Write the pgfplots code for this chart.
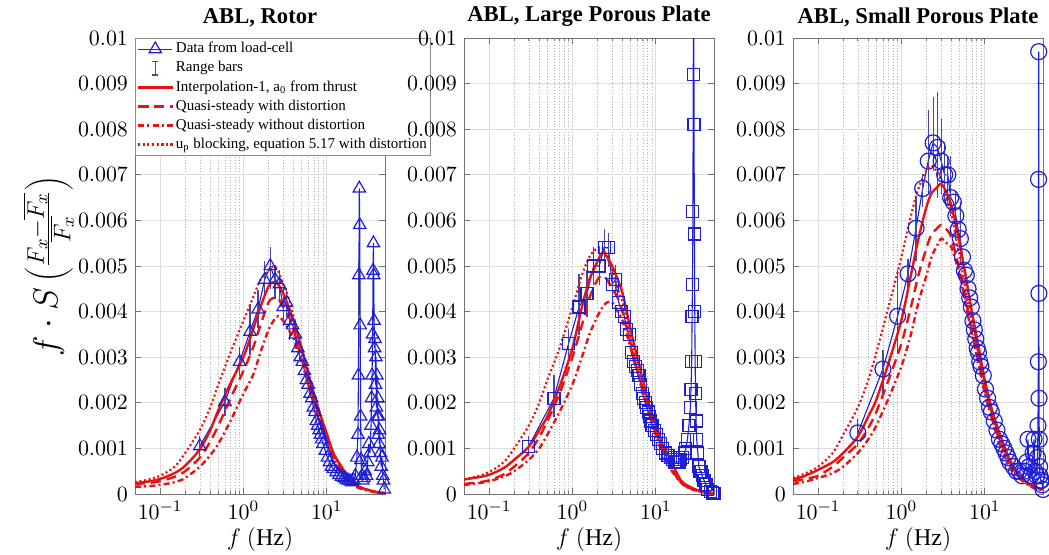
\documentclass[border=0pt]{standalone}
\usepackage{fontspec}
\setmainfont{Liberation Serif}
\usepackage{pgfplots}
\pgfplotsset{compat=1.18}
\usepackage{pgfplotstable}

\definecolor{mblue}{RGB}{30,30,215}
\definecolor{mred}{RGB}{232,18,18}
\definecolor{barcol}{RGB}{70,70,165}

% ---------- rotor ----------
\pgfplotstableread{
f y
0.3 0.00105
0.6 0.00202
0.9 0.0029
1.2 0.00356
1.5 0.00405
1.8 0.0047
2.1 0.0050
2.4 0.0047
2.7 0.0046
3.0 0.0041
3.3 0.0042
3.6 0.0038
3.9 0.0037
4.2 0.0035
4.5 0.0032
4.8 0.0030
5.1 0.0029
5.4 0.0027
5.7 0.0025
6.0 0.0024
6.3 0.0022
6.6 0.0021
6.9 0.0019
7.2 0.0018
7.5 0.0016
7.8 0.0015
8.1 0.0014
8.4 0.0013
8.7 0.0012
9.0 0.0011
9.6 0.00095
10.2 0.0008
10.8 0.0007
11.4 0.0006
12 0.00055
13 0.00048
14 0.00042
15 0.00038
16 0.00035
17 0.00032
18 0.0003
19 0.00028
20 0.00026
21 0.0003
22 0.0004
23 0.0008
23.7 0.0013
24.0 0.0026
24.3 0.0048
24.6 0.0067
24.9 0.0059
25.2 0.0037
25.5 0.0017
25.8 0.00075
26.4 0.0004
27 0.0003
28 0.00035
29 0.0005
30 0.0004
31 0.0007
32 0.0011
33 0.0009
34 0.0015
34.5 0.0021
35 0.0026
35.5 0.0035
36 0.0049
36.3 0.0055
36.6 0.0048
37 0.0038
37.5 0.0032
38 0.0034
38.5 0.0024
39 0.0030
39.5 0.0019
40 0.0026
40.5 0.0017
41 0.0021
41.5 0.0013
42 0.0017
42.5 0.0011
43 0.0014
44 0.0009
45 0.0006
46 0.0008
47 0.0004
48 0.0003
49 0.0001
}\rotordata

\pgfplotstableread{
f y p m
0.3 0.00105 0.0001 0.0001
0.6 0.00202 0.0002 0.0002
0.9 0.0029 0.0002 0.0002
1.2 0.00356 0.0005 0.0004
1.5 0.00405 0.0003 0.0003
1.8 0.0047 0.0003 0.0003
2.1 0.0050 0.0003 0.0004
2.4 0.0047 0.0002 0.0003
2.7 0.0046 0.0002 0.0003
3.0 0.0041 0.0003 0.0003
3.3 0.0042 0.0002 0.0002
3.6 0.0038 0.0002 0.0003
4.2 0.0035 0.0002 0.0002
24.3 0.0048 0.0002 0.0011
}\rotorbars

% f, interpolation-1, qs with distortion, qs without distortion, up blocking
\pgfplotstableread{
f a b c d
0.05 0.00024 0.00022 0.00016 0.00026
0.07 0.00027 0.00024 0.00017 0.00031
0.1 0.00033 0.00028 0.0002 0.0004
0.15 0.00046 0.00038 0.00026 0.0006
0.2 0.00062 0.0005 0.00035 0.0009
0.3 0.00098 0.0008 0.0006 0.0014
0.4 0.0014 0.00115 0.00085 0.0019
0.5 0.00184 0.0015 0.0011 0.0024
0.7 0.00243 0.0021 0.0016 0.0031
1 0.0030 0.0027 0.0022 0.0038
1.3 0.0036 0.0032 0.0026 0.0043
1.6 0.0041 0.0037 0.0031 0.0047
2 0.00455 0.0042 0.0036 0.0049
2.3 0.00465 0.0043 0.0038 0.0050
2.6 0.0046 0.0043 0.0039 0.0049
3 0.0044 0.0041 0.0038 0.0046
3.5 0.0041 0.0039 0.0036 0.0043
4 0.0038 0.0036 0.0034 0.0039
5 0.0032 0.0030 0.0029 0.0032
6 0.0026 0.0025 0.0024 0.0027
7 0.0022 0.0021 0.0020 0.0022
8.5 0.0017 0.0016 0.0015 0.0017
10 0.00133 0.0012 0.0012 0.0013
12 0.0009 0.00085 0.0008 0.0009
15 0.0006 0.0005 0.0005 0.0006
20 0.00027 0.00025 0.00022 0.0003
25 0.00015 0.00014 0.00012 0.00016
30 0.0001 0.0001 0.00008 0.0001
40 0.00004 0.00004 0.00003 0.00004
50 0.00002 0.00002 0.00001 0.00002
}\rotormodel

% ---------- large porous plate ----------
\pgfplotstableread{
f y
0.3 0.00105
0.6 0.0021
0.9 0.0033
1.2 0.0041
1.5 0.0044
1.8 0.0050
2.1 0.0050
2.4 0.0054
2.7 0.0054
3.0 0.0046
3.3 0.0047
3.6 0.0042
3.9 0.0040
4.2 0.0039
4.5 0.0036
4.8 0.0035
5.1 0.0031
5.4 0.0029
5.7 0.0028
6.0 0.0027
6.3 0.0026
6.6 0.0024
6.9 0.0022
7.2 0.0021
7.5 0.0020
7.8 0.0019
8.1 0.0018
8.4 0.0017
8.7 0.0016
9.0 0.0015
9.6 0.0014
10.2 0.0013
10.8 0.0012
11.4 0.0011
12 0.0010
13 0.0009
14 0.00085
15 0.0008
16 0.00075
17 0.0007
18 0.0007
19 0.0007
20 0.00075
21 0.0008
22 0.0009
23 0.0010
24 0.0012
25 0.0015
26 0.0019
26.5 0.0023
27 0.0029
27.3 0.0039
27.6 0.0046
27.9 0.0062
28.2 0.0092
28.5 0.0125
28.8 0.0081
29.1 0.0057
29.4 0.0040
29.7 0.0029
30 0.0022
30.5 0.0016
31 0.0012
32 0.0009
33 0.0006
34 0.0005
35 0.0005
36 0.0004
38 0.0003
40 0.0002
42 0.0001
45 0.00005
48 0.00002
50 0.00001
}\lppdata

\pgfplotstableread{
f y p m
0.3 0.00105 0.0001 0.0001
0.6 0.0021 0.0004 0.0003
0.9 0.0033 0.0002 0.0002
1.2 0.0041 0.0006 0.0005
1.5 0.0044 0.0004 0.0004
1.8 0.0050 0.0003 0.0003
2.1 0.0050 0.0003 0.0003
2.4 0.0054 0.0003 0.0004
2.7 0.0054 0.0002 0.0003
3.0 0.0046 0.0002 0.0003
3.3 0.0047 0.0002 0.0002
}\lppbars

\pgfplotstableread{
f a b c d
0.05 0.00032 0.00022 0.0002 0.00032
0.07 0.00036 0.00025 0.00023 0.00038
0.1 0.00042 0.0003 0.00028 0.00048
0.15 0.00057 0.00043 0.00038 0.0007
0.2 0.00075 0.0006 0.0005 0.001
0.3 0.00104 0.0009 0.00075 0.0015
0.4 0.0014 0.00125 0.001 0.002
0.5 0.0017 0.0016 0.0013 0.0025
0.7 0.00235 0.0022 0.0018 0.0032
1 0.0032 0.0030 0.0024 0.0041
1.3 0.0041 0.0037 0.003 0.0048
1.6 0.0047 0.0043 0.0035 0.0052
2 0.0051 0.0047 0.0039 0.0054
2.3 0.0053 0.0048 0.0041 0.0054
2.6 0.0052 0.0047 0.0042 0.0052
3 0.0050 0.0045 0.0042 0.0049
3.5 0.0047 0.0043 0.0040 0.0045
4 0.0044 0.0040 0.0038 0.0042
5 0.0036 0.0033 0.0032 0.0034
6 0.0030 0.0027 0.0027 0.0028
7 0.0025 0.0023 0.0022 0.0023
8.5 0.0019 0.0018 0.0017 0.0018
10 0.00155 0.0014 0.0013 0.0014
12 0.0011 0.001 0.0009 0.001
15 0.00075 0.0006 0.00055 0.0006
20 0.0003 0.00025 0.00025 0.0003
25 0.00017 0.00014 0.00013 0.00015
30 0.0001 0.00008 0.00008 0.0001
40 0.00004 0.00003 0.00003 0.00004
50 0.00001 0.00001 0.00001 0.00001
}\lppmodel

% ---------- small porous plate ----------
\pgfplotstableread{
f y
0.3 0.00134
0.6 0.00274
0.9 0.0039
1.2 0.00483
1.5 0.00583
1.8 0.0067
2.1 0.0073
2.4 0.0077
2.7 0.0076
3.0 0.0073
3.3 0.0070
3.6 0.0070
3.9 0.0065
4.2 0.0064
4.5 0.0061
4.8 0.0058
5.1 0.0056
5.4 0.0052
5.7 0.0049
6.0 0.0048
6.3 0.0045
6.6 0.0043
6.9 0.0041
7.2 0.0038
7.5 0.0036
7.8 0.0034
8.1 0.0032
8.4 0.0031
8.7 0.0029
9.0 0.0028
9.6 0.0026
10.2 0.0023
10.8 0.0021
11.4 0.0019
12 0.0018
13 0.0016
14 0.0014
15 0.0012
16 0.0011
17 0.0010
18 0.0009
19 0.0008
20 0.0007
22 0.0006
24 0.0005
26 0.0005
28 0.0004
30 0.0005
32 0.0007
33 0.0012
34 0.0006
36 0.0004
38 0.0009
39 0.0012
40 0.0005
42 0.0004
43 0.0008
43.5 0.0015
44 0.0029
44.2 0.0069
44.4 0.0097
44.6 0.0044
44.8 0.0021
45.1 0.0012
45.5 0.0006
46 0.0004
47 0.0003
48 0.0003
49 0.0002
50 0.0001
}\sppdata

\pgfplotstableread{
f y p m
0.3 0.00134 0.0002 0.0002
0.6 0.00274 0.0003 0.0004
0.9 0.0039 0.0009 0.0007
1.2 0.00483 0.0002 0.0002
1.5 0.00583 0.0006 0.0006
1.8 0.0067 0.0002 0.0003
2.1 0.0073 0.0010 0.0006
2.4 0.0077 0.0009 0.0005
2.7 0.0076 0.0011 0.0010
3.0 0.0073 0.0008 0.0006
3.3 0.0070 0.0006 0.0005
3.6 0.0070 0.0003 0.0005
3.9 0.0065 0.0008 0.0003
4.5 0.0061 0.0004 0.0004
5.1 0.0056 0.0007 0.0004
}\sppbars

\pgfplotstableread{
f a b c d
0.05 0.00032 0.00028 0.00022 0.00035
0.07 0.0004 0.00033 0.00027 0.00045
0.1 0.00053 0.0004 0.00035 0.0006
0.15 0.0007 0.0006 0.00046 0.0009
0.2 0.0009 0.0008 0.0006 0.0013
0.3 0.00126 0.0011 0.0009 0.0019
0.4 0.0017 0.00145 0.0012 0.0025
0.5 0.00207 0.0018 0.0015 0.0031
0.7 0.00287 0.0025 0.0021 0.0041
1 0.00382 0.0033 0.0028 0.0052
1.3 0.0048 0.0041 0.0035 0.0061
1.6 0.0056 0.0048 0.0042 0.0067
2 0.0063 0.0054 0.0048 0.0071
2.3 0.0066 0.0057 0.0052 0.0072
2.6 0.0067 0.0058 0.0054 0.0071
3 0.0068 0.0059 0.0056 0.0069
3.5 0.0066 0.0058 0.0055 0.0065
4 0.0063 0.0056 0.0054 0.0061
5 0.0055 0.0049 0.0048 0.0052
6 0.0047 0.0042 0.0041 0.0044
7 0.0040 0.0036 0.0035 0.0038
8.5 0.0032 0.0029 0.0028 0.003
10 0.0025 0.0023 0.0022 0.0024
12 0.0019 0.0017 0.0017 0.0018
15 0.00134 0.0012 0.0011 0.0012
20 0.00075 0.0007 0.0006 0.0007
25 0.00045 0.0004 0.00038 0.00045
30 0.0003 0.00028 0.00025 0.0003
40 0.00015 0.00013 0.00012 0.00014
50 0.0001 0.0001 0.00008 0.0001
}\sppmodel

\pgfplotsset{
  abl panel/.style={
    scale only axis, anchor=south west,
    width=125pt, height=228pt,
    xmin=0.05, xmax=50, ymin=0, ymax=0.01,
    xtick={0.1,1,10},
    ytick={0,0.001,0.002,0.003,0.004,0.005,0.006,0.007,0.008,0.009,0.01},
    yticklabels={$0$,$0.001$,$0.002$,$0.003$,$0.004$,$0.005$,$0.006$,$0.007$,$0.008$,$0.009$,$0.01$},
    scaled y ticks=false,
    xmajorgrids, ymajorgrids, xminorgrids,
    major grid style={black!13, line width=0.4pt},
    minor grid style={black!30, densely dotted, line width=0.3pt},
    tick align=inside, major tick length=3pt, minor tick length=1.6pt,
    axis line style={black!55},
    every tick/.style={black!55, line width=0.4pt},
    tick label style={font=\fontsize{11}{13}\selectfont},
    title style={font=\bfseries\fontsize{11.3}{13}\selectfont, yshift=-4pt},
    xlabel={$f\ (\mathrm{Hz})$},
    xlabel style={font=\fontsize{12}{14}\selectfont, yshift=3pt},
  },
  meas/.style={mblue, line width=0.55pt, mark options={solid, draw=mblue, line width=0.6pt}},
  range bars/.style={draw=none, mark=none,
    error bars/y dir=both, error bars/y explicit,
    error bars/error bar style={draw=barcol, line width=0.6pt},
    error bars/error mark options={draw=barcol, line width=0.6pt, mark size=2.6pt}},
  m1/.style={mred, line width=1.2pt, smooth},
  m2/.style={mred, line width=1.2pt, smooth, dash pattern=on 5pt off 3pt},
  m3/.style={mred, line width=1.2pt, smooth, dash pattern=on 3pt off 1.6pt on 1pt off 1.6pt},
  m4/.style={mred, line width=1.1pt, smooth, dash pattern=on 1pt off 1.3pt},
}

\begin{document}
\begin{tikzpicture}
\useasboundingbox (0,0) rectangle (524.5pt,277pt);

\begin{semilogxaxis}[abl panel, at={(67.5pt,30pt)}, title={ABL, Rotor},
  ylabel={$f\cdot S\left(\frac{F_x-\overline{F_x}}{\overline{F_x}}\right)$},
  ylabel style={font=\fontsize{18.5}{21}\selectfont, inner sep=0pt, yshift=-1.5pt},
  legend cell align=left,
  legend style={at={(0,1)}, anchor=north west, draw=black!45, fill=white,
    font=\fontsize{7.5}{9}\selectfont, inner sep=0.8pt, row sep=0.4pt,
    nodes={inner sep=1.2pt}},
]
\addplot[meas, mark=triangle, mark size=3.6pt] table[x=f, y=y] {\rotordata};
\addlegendentry{Data from load-cell}
\addplot[range bars, legend image code/.code={
  \draw[barcol, line width=0.6pt] (0.3cm,-0.12cm) -- (0.3cm,0.12cm)
    (0.25cm,-0.12cm) -- (0.35cm,-0.12cm) (0.25cm,0.12cm) -- (0.35cm,0.12cm);}]
  table[x=f, y=y, y error plus=p, y error minus=m] {\rotorbars};
\addlegendentry{Range bars}
\addplot[m1] table[x=f, y=a] {\rotormodel};
\addlegendentry{Interpolation-1, a\textsubscript{0} from thrust}
\addplot[m2] table[x=f, y=b] {\rotormodel};
\addlegendentry{Quasi-steady with distortion}
\addplot[m3] table[x=f, y=c] {\rotormodel};
\addlegendentry{Quasi-steady without distortion}
\addplot[m4] table[x=f, y=d] {\rotormodel};
\addlegendentry{u\textsubscript{p} blocking, equation 5.17 with distortion}
\end{semilogxaxis}

\begin{semilogxaxis}[abl panel, at={(232pt,30pt)}, title={ABL, Large Porous Plate}]
\addplot[meas, mark=square, mark size=3pt] table[x=f, y=y] {\lppdata};
\addplot[range bars] table[x=f, y=y, y error plus=p, y error minus=m] {\lppbars};
\addplot[m1] table[x=f, y=a] {\lppmodel};
\addplot[m2] table[x=f, y=b] {\lppmodel};
\addplot[m3] table[x=f, y=c] {\lppmodel};
\addplot[m4] table[x=f, y=d] {\lppmodel};
\end{semilogxaxis}

\begin{semilogxaxis}[abl panel, at={(396.5pt,30pt)}, title={ABL, Small Porous Plate}]
\addplot[meas, mark=o, mark size=4pt] table[x=f, y=y] {\sppdata};
\addplot[range bars] table[x=f, y=y, y error plus=p, y error minus=m] {\sppbars};
\addplot[m1] table[x=f, y=a] {\sppmodel};
\addplot[m2] table[x=f, y=b] {\sppmodel};
\addplot[m3] table[x=f, y=c] {\sppmodel};
\addplot[m4] table[x=f, y=d] {\sppmodel};
\end{semilogxaxis}
\end{tikzpicture}
\end{document}
